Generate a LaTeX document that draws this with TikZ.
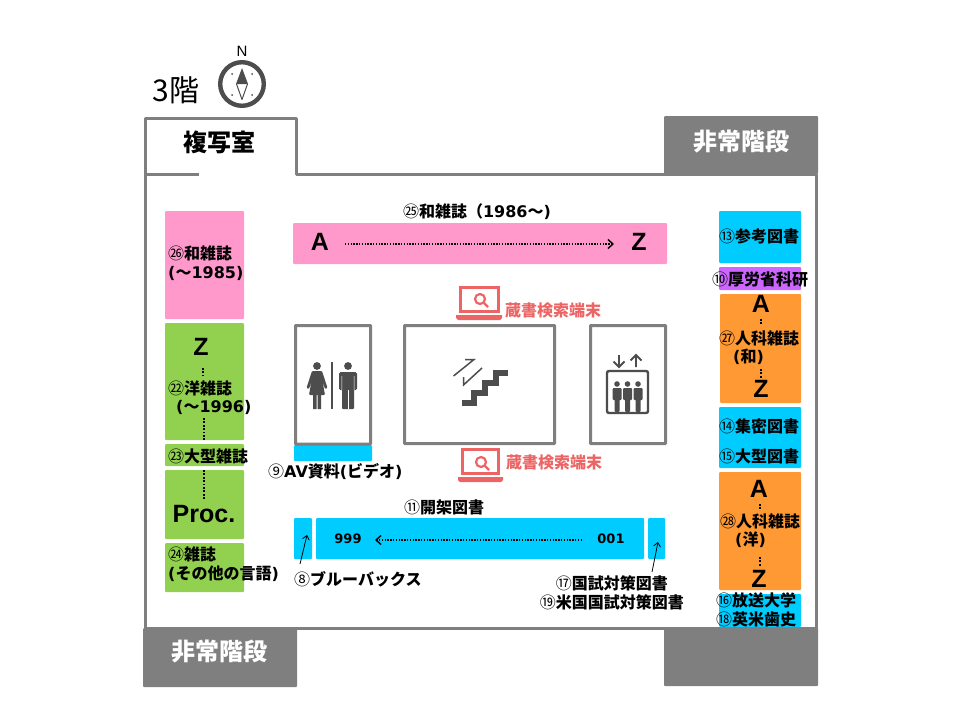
\documentclass[tikz,border=0pt]{standalone}
\usepackage{fontspec}
\setmainfont{Noto Sans CJK JP}
\newfontfamily\latfont{DejaVu Sans}
\newfontfamily\capfont{Liberation Sans}
\newcommand{\lat}[1]{{\latfont #1}}
\newcommand{\cn}[1]{{\mdseries #1}}
\usetikzlibrary{positioning}
\usetikzlibrary{arrows.meta}
\definecolor{wallgray}{HTML}{7F7F7F}
\definecolor{icongray}{HTML}{4D4D4D}
\definecolor{termred}{HTML}{EC6464}
\definecolor{shelfpink}{HTML}{FF99CC}
\definecolor{shelfgreen}{HTML}{92D050}
\definecolor{shelfblue}{HTML}{00CCFF}
\definecolor{shelforange}{HTML}{FF9933}
\definecolor{shelfpurple}{HTML}{CC66FF}
\tikzset{
	wall/.style={draw=wallgray,line width=3pt,line join=round},
	roombox/.style={draw=wallgray,line width=3pt,fill=white,rounded corners=0.5pt},
	stairblock/.style={fill=wallgray,rounded corners=1pt},
	pinkshelf/.style={fill=shelfpink,rounded corners=1pt},
	greenshelf/.style={fill=shelfgreen,rounded corners=1pt},
	blueshelf/.style={fill=shelfblue,rounded corners=1pt},
	orangeshelf/.style={fill=shelforange,rounded corners=1pt},
	purpleshelf/.style={fill=shelfpurple,rounded corners=1pt},
	shelflabel/.style={font=\bfseries\fontsize{16}{19}\selectfont,inner sep=0pt,anchor=west,align=left},
	midlabel/.style={font=\bfseries\fontsize{16}{19}\selectfont,inner sep=0pt},
	letter/.style={font=\capfont\bfseries\fontsize{25}{25}\selectfont,inner sep=0pt},
	callno/.style={font=\latfont\bfseries\fontsize{13}{13}\selectfont,inner sep=0pt},
	bigroom/.style={font=\bfseries\fontsize{24}{24}\selectfont,inner sep=0pt},
	termlabel/.style={font=\bfseries\fontsize{16}{16}\selectfont,inner sep=0pt,text=termred},
	dots/.style={line width=1.7pt,dash pattern=on 1.7pt off 1.7pt},
	rundots/.style={line width=1.4pt,dash pattern=on 1.4pt off 1.4pt,-{Straight Barb[length=5pt,width=9pt,line width=1.4pt]}},
	pointer/.style={line width=0.8pt,-{Straight Barb[length=4pt,width=7pt]}},
	icon/.style={fill=icongray},
	laptop/.style={draw=termred,line width=3pt}
}
\begin{document}
\begin{tikzpicture}[x=1pt,y=-1pt]
	\useasboundingbox (0,0) rectangle (960,720);

	%Walls
	\draw[wall] (145,628) -- (145,118) -- (296,118) -- (296,174) -- (816,174) -- (816,628) -- cycle;
	\draw[wall] (145,174) -- (199,174);
	\fill[stairblock] (664,116) rectangle (818,174);
	\fill[stairblock] (143,628) rectangle (297,687);
	\fill[stairblock] (664,628) rectangle (818,686);

	%Shelves
	\fill[pinkshelf] (165,211) rectangle (244,319);
	\fill[greenshelf] (165,323) rectangle (244,440);
	\fill[greenshelf] (165,444) rectangle (244,466);
	\fill[greenshelf] (165,470) rectangle (244,539);
	\fill[greenshelf] (165,543) rectangle (244,592);
	\fill[pinkshelf] (293,223) rectangle (667,264);
	\fill[blueshelf] (294,445) rectangle (372,461);
	\fill[blueshelf] (294,518) rectangle (312,559);
	\fill[blueshelf] (316,518) rectangle (644,559);
	\fill[blueshelf] (648,518) rectangle (665,559);
	\fill[blueshelf] (719,211) rectangle (801,263);
	\fill[purpleshelf] (719,267) rectangle (801,290);
	\fill[orangeshelf] (720,294) rectangle (801,403);
	\fill[blueshelf] (719,407) rectangle (801,468);
	\fill[orangeshelf] (719,472) rectangle (801,590);
	\fill[blueshelf] (719,594) rectangle (801,627);

	%Rooms
	\draw[roombox] (295.5,325.5) rectangle (370.5,444);
	\draw[roombox] (404.5,325.5) rectangle (554.5,443.5);
	\draw[roombox] (590.5,325.5) rectangle (665.5,443.5);

	%Compass
	\node[font=\capfont\fontsize{15}{15}\selectfont,inner sep=0pt] (north) at (242,51) {N};
	\draw[icongray,line width=4.4pt] (242,84) circle (21.8);
	\fill[icongray] (242,68) -- (248,84) -- (236,84) -- cycle;
	\draw[icongray,line width=1pt,line join=round] (236.5,84) -- (242,99.5) -- (247.5,84);
	\fill[icongray] (232,74) circle (1) (252,74) circle (1) (232,95) circle (1) (252,95) circle (1);

	%Rooms text
	\node[font=\fontsize{30}{30}\selectfont,inner sep=0pt] (floor) at (176,90) {3階};
	\node[bigroom] (copy) at (219,142) {複写室};
	\node[bigroom,text=white] (exittop) at (741,142) {非常階段};
	\node[bigroom,text=white] (exitbottom) at (219,652) {非常階段};

	%Left column
	\node[shelflabel] (wazasshi) at (168,263.5) {\cn{㉖}和雑誌\\\lat{(}～\lat{1985)}};
	\node[letter] (leftz) at (201,347) {Z};
	\node[shelflabel] (yozasshi) at (168,388) {\cn{㉒}洋雑誌};
	\node[shelflabel] (yoyear) at (176,407) {\lat{(}～\lat{1996)}};
	\node[shelflabel] (ogata) at (168,456) {\cn{㉓}大型雑誌};
	\node[letter] (proc) at (204,514) {Proc.};
	\node[shelflabel] (sonota) at (168,564.5) {\cn{㉔}雑誌\\\lat{(}その他の言語\lat{)}};
	\coordinate (d1a) at (203,368);
	\coordinate (d1b) at (203,376);
	\coordinate (d2a) at (204,418);
	\coordinate (d2b) at (204,440);
	\coordinate (d3a) at (204,470);
	\coordinate (d3b) at (204,500);
	\draw[dots] (d1a) -- (d1b);
	\draw[dots] (d2a) -- (d2b);
	\draw[dots] (d3a) -- (d3b);

	%Top shelf
	\node[midlabel] (wanew) at (477,212) {\cn{㉕}和雑誌（\lat{1986}～\lat{)}};
	\node[letter] (topa) at (320,242) {A};
	\node[letter] (topz) at (639,242) {Z};
	\coordinate (ta) at (345,244);
	\coordinate (tb) at (614,244);
	\draw[rundots] (ta) -- (tb);

	%Terminals
	\draw[laptop] (460.5,287.5) rectangle (498.5,311.5);
	\fill[termred] (456,315) -- (502,315) -- (502,318) -- (500,320) -- (458,320) -- (456,318) -- cycle;
	\draw[termred,line width=2.2pt] (480,299) circle (5);
	\draw[termred,line width=2.4pt] (484,303) -- (488,307);
	\node[termlabel] (termtop) at (553,310) {蔵書検索端末};
	\draw[laptop] (462.5,449.5) rectangle (498.5,473.5);
	\fill[termred] (458,477) -- (503,477) -- (503,480) -- (501,482) -- (460,482) -- (458,480) -- cycle;
	\draw[termred,line width=2.2pt] (481,462) circle (5);
	\draw[termred,line width=2.4pt] (485,466) -- (489,470);
	\node[termlabel] (termbottom) at (554,462) {蔵書検索端末};

	%Toilet icon
	\fill[icon] (317,366) circle (3.9);
	\fill[icon,rounded corners=1pt] (312,371) -- (322,371) -- (327.5,388) -- (325,389) -- (322.5,381) -- (325,395) -- (309,395) -- (311.5,381) -- (309,389) -- (306.5,388) -- cycle;
	\fill[icon] (313,395) rectangle (316.5,409) (317.5,395) rectangle (321,409);
	\fill[icon] (331,362) rectangle (333,409);
	\fill[icon] (348,366) circle (3.9);
	\fill[icon,rounded corners=1.5pt] (339,372) rectangle (357,390);
	\fill[icon,rounded corners=1pt] (342,372) rectangle (354,409);
	\fill[white] (347.7,390) rectangle (348.4,409);
	\fill[white] (341.6,376) rectangle (342.2,390) (353.8,376) rectangle (354.4,390);

	%Stairs icon
	\draw[icongray,line width=5.5pt] (462,403) -- (474,403) -- (474,393) -- (485,393) -- (485,383) -- (496,383) -- (496,373) -- (508,373);
	\draw[icongray,line width=1.5pt] (453.5,376) -- (474,359.5) -- (465,359.5);
	\draw[icongray,line width=1.5pt] (482,368) -- (463.5,385) -- (463.5,377);

	%Elevator icon
	\draw[icongray,line width=2.4pt,rounded corners=2pt] (607,371) rectangle (648,413);
	\draw[icongray,line width=1.8pt] (619,355) -- (619,367) (613.5,361.5) -- (619,367) -- (624.5,361.5);
	\draw[icongray,line width=1.8pt] (636,367) -- (636,355) (630.5,360.5) -- (636,355) -- (641.5,360.5);
	\fill[icon] (617,384) circle (2.8) (627.5,384) circle (2.8) (638,384) circle (2.8);
	\fill[icon,rounded corners=1pt] (612.5,388) rectangle (621.5,400) (614.5,398) rectangle (619.5,412);
	\fill[icon,rounded corners=1pt] (623,388) rectangle (632,400) (625,398) rectangle (630,412);
	\fill[icon,rounded corners=1pt] (633.5,388) rectangle (642.5,400) (635.5,398) rectangle (640.5,412);

	%Blue shelves
	\node[midlabel,anchor=west] (av) at (268,472) {\cn{⑨}\lat{AV}資料\lat{(}ビデオ\lat{)}};
	\node[midlabel] (kaika) at (444,507) {\cn{⑪}開架図書};
	\node[callno] (nine) at (348,539) {999};
	\node[callno] (one) at (611,539) {001};
	\coordinate (oa) at (582,540);
	\coordinate (ob) at (375,540);
	\draw[rundots] (oa) -- (ob);
	\node[midlabel,anchor=west] (blue) at (294,579) {\cn{⑧}ブルーバックス};
	\coordinate (ba) at (300,564);
	\coordinate (bb) at (307,535);
	\draw[pointer] (ba) -- (bb);
	\node[midlabel,anchor=east] (kokushi) at (668,583) {\cn{⑰}国試対策図書};
	\node[midlabel,anchor=east] (beikoku) at (684,602) {\cn{⑲}米国国試対策図書};
	\coordinate (ka) at (652,572);
	\coordinate (kb) at (658,542);
	\draw[pointer] (ka) -- (kb);

	%Right column
	\node[shelflabel] (sanko) at (719,236) {\cn{⑬}参考図書};
	\node[shelflabel] (koro) at (712,279) {\cn{⑩}厚労省科研};
	\node[letter] (jina) at (761,304) {A};
	\node[shelflabel] (jinwa) at (719,338) {\cn{㉗}人科雑誌};
	\node[shelflabel] (wa) at (733,357) {\lat{(}和\lat{)}};
	\node[letter] (jinz) at (761,389) {Z};
	\node[shelflabel] (shumitsu) at (719,426) {\cn{⑭}集密図書};
	\node[shelflabel] (ogatatosho) at (719,456) {\cn{⑮}大型図書};
	\node[letter] (yoa) at (759,489) {A};
	\node[shelflabel] (jinyo) at (720,521) {\cn{㉘}人科雑誌};
	\node[shelflabel] (yo) at (735,540) {\lat{(}洋\lat{)}};
	\node[letter] (yoz) at (759,579) {Z};
	\node[shelflabel] (hoso) at (716,600) {\cn{⑯}放送大学};
	\node[shelflabel] (eibei) at (716,619) {\cn{⑱}英米歯史};
	\coordinate (e1a) at (761,319);
	\coordinate (e1b) at (761,325);
	\coordinate (e2a) at (761,369);
	\coordinate (e2b) at (761,378);
	\coordinate (e3a) at (760,504);
	\coordinate (e3b) at (760,510);
	\coordinate (e4a) at (760,557);
	\coordinate (e4b) at (760,567);
	\draw[dots] (e1a) -- (e1b);
	\draw[dots] (e2a) -- (e2b);
	\draw[dots] (e3a) -- (e3b);
	\draw[dots] (e4a) -- (e4b);
\end{tikzpicture}
\end{document}
